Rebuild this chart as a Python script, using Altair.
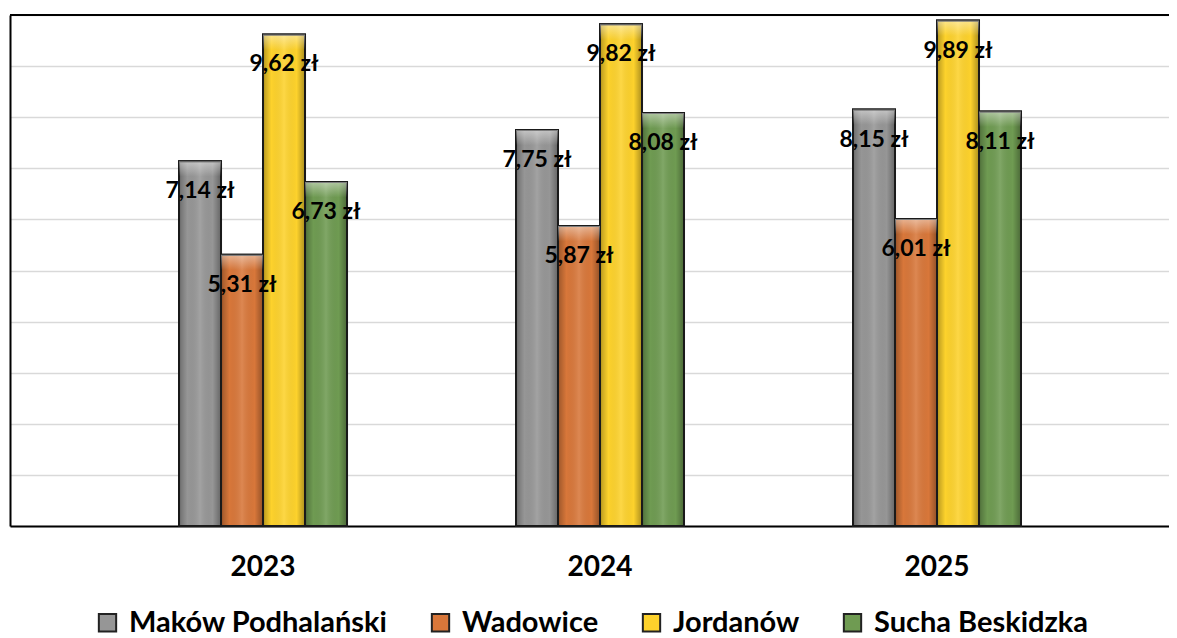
import altair as alt
import pandas as pd

years = ["2023", "2024", "2025"]
cities = ["Maków Podhalański", "Wadowice", "Jordanów", "Sucha Beskidzka"]
makow = [7.14, 7.75, 8.15]
wadowice = [5.31, 5.87, 6.01]
jordanow = [9.62, 9.82, 9.89]
sucha = [6.73, 8.08, 8.11]
colors = ["#969696", "#D8773A", "#FDD22C", "#6F9B52"]

series = [makow, wadowice, jordanow, sucha]
rows = []
for c, vals in zip(cities, series):
    for yr, v in zip(years, vals):
        rows.append({"year": yr, "city": c, "value": v})
df = pd.DataFrame(rows)

FONT = "Lato"

x = alt.X(
    "year:N",
    sort=years,
    scale=alt.Scale(paddingInner=0, paddingOuter=0.2196, align=0.571),
    axis=alt.Axis(
        title=None, labelAngle=0, labelFont=FONT, labelFontSize=28,
        labelFontWeight="bold", labelColor="black", ticks=False, tickSize=0,
        labelPadding=41, labelBaseline="middle", domainColor="black",
        domainWidth=2, grid=False,
    ),
)
xo = alt.XOffset("city:N", sort=cities,
                 scale=alt.Scale(paddingInner=0, paddingOuter=0, range=[84.5, 252.5]))
y = alt.Y(
    "value:Q",
    scale=alt.Scale(domain=[0, 10], nice=False, zero=True),
    axis=alt.Axis(
        title=None, labels=False, ticks=False, values=list(range(11)),
        gridColor="#d9d9d9", gridWidth=1.5, domainColor="black", domainWidth=2,
    ),
)

base = alt.Chart(df)

bars = base.mark_bar(stroke="#1a1a1a", strokeWidth=2).encode(
    x=x, xOffset=xo, y=y,
    color=alt.Color(
        "city:N", sort=cities,
        scale=alt.Scale(domain=cities, range=colors),
        legend=alt.Legend(
            title=None, orient="none", legendX=83, legendY=593,
            direction="horizontal", columns=4, symbolType="square",
            symbolSize=300, symbolStrokeColor="#222222", symbolStrokeWidth=2,
            symbolOpacity=1, labelFont=FONT, labelFontSize=29,
            labelFontWeight="bold", labelColor="black", labelLimit=500,
            labelOffset=7, columnPadding=38,
        ),
    ),
)

shade = base.mark_bar(
    fill=alt.Gradient(
        gradient="linear", x1=0, y1=0, x2=1, y2=0,
        stops=[
            alt.GradientStop(offset=0, color="rgba(0,0,0,0.28)"),
            alt.GradientStop(offset=0.2, color="rgba(0,0,0,0)"),
            alt.GradientStop(offset=0.5, color="rgba(255,255,255,0.12)"),
            alt.GradientStop(offset=0.8, color="rgba(0,0,0,0)"),
            alt.GradientStop(offset=1, color="rgba(0,0,0,0.32)"),
        ],
    ),
    stroke="#1a1a1a", strokeWidth=2,
).encode(x=x, xOffset=xo, y="value:Q")

cap = base.transform_calculate(top2="datum.value - 0.3").mark_bar(
    fill=alt.Gradient(
        gradient="linear", x1=0, y1=0, x2=0, y2=1,
        stops=[
            alt.GradientStop(offset=0, color="rgba(255,255,255,0.45)"),
            alt.GradientStop(offset=1, color="rgba(255,255,255,0)"),
        ],
    ),
).encode(x=x, xOffset=xo, y="value:Q", y2="top2:Q")

labels = base.transform_calculate(
    lbl="replace(format(datum.value, '.2f'), '.', ',') + ' zł'"
).mark_text(
    font=FONT, fontSize=23, fontWeight="bold", dy=30, baseline="middle",
    align="center", color="black",
).encode(x=x, xOffset=xo, y="value:Q", text="lbl:N")

top_rule = alt.Chart(pd.DataFrame({"t": [10]})).mark_rule(
    color="black", strokeWidth=2
).encode(y="t:Q")

chart = alt.layer(bars, shade, cap, labels, top_rule).properties(
    width=1159, height=511,
    autosize=alt.AutoSizeParams(type="none"),
    padding={"left": 2, "top": 7, "right": 0, "bottom": 112},
).configure_view(stroke=None).configure(background="white")

chart.save("out.html", embed_options={"renderer": "svg", "actions": False})
